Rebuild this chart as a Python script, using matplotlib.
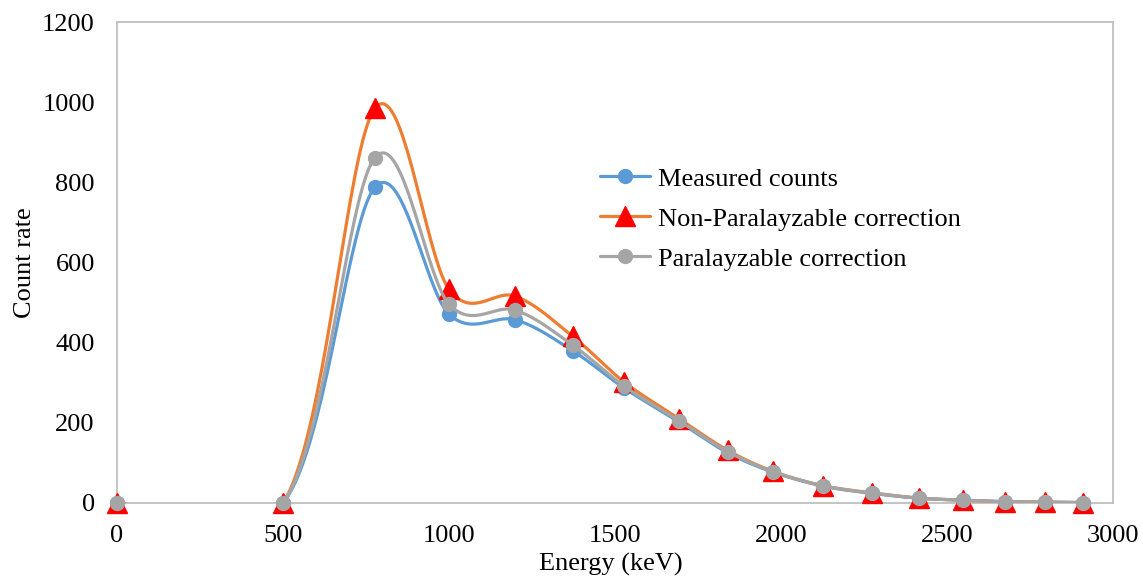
import numpy as np
import matplotlib
matplotlib.use("Agg")
import matplotlib.pyplot as plt

plt.rcParams['font.family'] = ['Liberation Serif', 'DejaVu Serif']

# Energy bins (keV) and count rates per bin
energy = [0, 500, 777, 1000, 1200, 1372, 1527, 1693, 1840, 1976,
          2127, 2274, 2416, 2548, 2675, 2795, 2909]
measured = [0, 0, 788, 471, 457, 380, 287, 202, 125, 77,
            42, 24, 12, 7, 3, 2, 1]
non_paralyzable = [0, 0, 985, 533, 516, 416, 302, 210, 131, 79,
                   43, 25, 12, 7, 3, 2, 1]
paralyzable = [0, 0, 862, 496, 481, 394, 292, 205, 128, 78,
               43, 25, 12, 7, 3, 2, 1]

FS = 19


def smooth(xs, ys, n=40):
    # spreadsheet-style smoothed line: cubic Bezier segments with
    # control points taken from neighbouring points (tension 1/6)
    p = np.column_stack([xs, ys]).astype(float)
    out = []
    t = np.linspace(0, 1, n)[:, None]
    for i in range(len(p) - 1):
        p0 = p[i - 1] if i > 0 else p[i]
        p1, p2 = p[i], p[i + 1]
        p3 = p[i + 2] if i + 2 < len(p) else p[i + 1]
        c1 = p1 + (p2 - p0) / 6
        c2 = p2 - (p3 - p1) / 6
        seg = ((1 - t) ** 3 * p1 + 3 * (1 - t) ** 2 * t * c1
               + 3 * (1 - t) * t ** 2 * c2 + t ** 3 * p2)
        out.append(seg if i == 0 else seg[1:])
    seg = np.vstack(out)
    return seg[:, 0], seg[:, 1]


fig = plt.figure(figsize=(11.43, 5.8), dpi=100)
ax = fig.add_axes([0.1024, 0.1328, 0.8714, 0.8292])

series = [
    ("Measured counts", measured, '#5B9BD5', 'o', '#5B9BD5', 10),
    ("Non-Paralayzable correction", non_paralyzable, '#ED7D31', '^', '#FF0000', 14),
    ("Paralayzable correction", paralyzable, '#A5A5A5', 'o', '#A5A5A5', 10),
]

handles = []
for k, (name, vals, lc, mk, mc, ms) in enumerate(series):
    sx, sy = smooth(energy, vals)
    ln, = ax.plot(sx, sy, color=lc, lw=2.3, zorder=2 + 2 * k,
                  solid_capstyle='round')
    mks, = ax.plot(energy, vals, ls='none', marker=mk, ms=ms,
                   color=mc, mec=mc, zorder=3 + 2 * k, clip_on=False)
    handles.append(((ln, mks), name))

ax.set_xlim(0, 3000)
ax.set_ylim(0, 1200)
ax.set_xticks(np.arange(0, 3001, 500))
ax.set_yticks(np.arange(0, 1201, 200))
ax.tick_params(length=0, labelsize=FS)
ax.tick_params(axis='y', pad=16)
ax.tick_params(axis='x', pad=16)
for s in ax.spines.values():
    s.set_color('#BFBFBF')
    s.set_linewidth(1.3)

ax.set_xlabel("Energy (keV)", fontsize=FS)
ax.set_ylabel("Count rate", fontsize=FS)
ax.xaxis.set_label_coords(0.496, -0.104)
ax.yaxis.set_label_coords(-0.081, 0.5)

ax.legend([h for h, _ in handles], [n for _, n in handles],
          loc='upper left', bbox_to_anchor=(0.525, 0.712),
          bbox_transform=fig.transFigure, frameon=False, fontsize=FS,
          handlelength=1.9, handletextpad=0.3, labelspacing=0.63,
          borderaxespad=0, borderpad=0)

fig.savefig("out.png", dpi=100)
